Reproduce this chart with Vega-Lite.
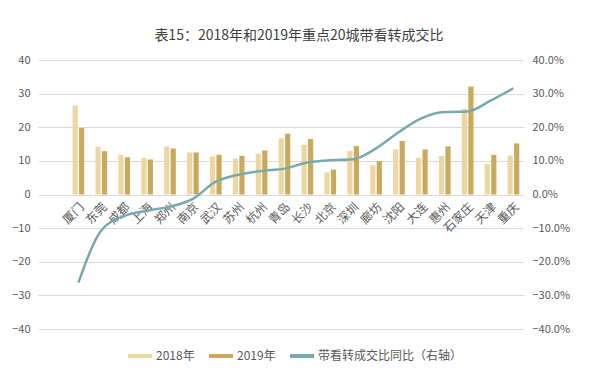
{
  "$schema": "https://vega.github.io/schema/vega-lite/v6.json",
  "width": 486,
  "height": 269,
  "autosize": {"type": "none"},
  "padding": {"left": 38, "top": 60, "right": 76, "bottom": 54},
  "background": "white",
  "title": {"text": "表15：2018年和2019年重点20城带看转成交比", "fontSize": 14, "font": "Noto Sans CJK SC", "fontWeight": "normal", "color": "#404040", "offset": 11, "anchor": "middle", "dx": 18},
  "config": {
    "font": "Noto Sans CJK SC",
    "view": {"stroke": null},
    "axis": {"labelColor": "#595959", "labelFontSize": 11, "titleColor": "#595959", "gridColor": "#d9d9d9", "domain": false, "ticks": false},
    "legend": {"labelColor": "#595959", "labelFontSize": 12}
  },
  "datasets": {
    "bars": [
      {"city": "厦门", "series": "2018年", "value": 26.5}, {"city": "厦门", "series": "2019年", "value": 19.8},
      {"city": "东莞", "series": "2018年", "value": 14.2}, {"city": "东莞", "series": "2019年", "value": 12.9},
      {"city": "成都", "series": "2018年", "value": 11.8}, {"city": "成都", "series": "2019年", "value": 11.1},
      {"city": "上海", "series": "2018年", "value": 10.9}, {"city": "上海", "series": "2019年", "value": 10.4},
      {"city": "郑州", "series": "2018年", "value": 14.3}, {"city": "郑州", "series": "2019年", "value": 13.7},
      {"city": "南京", "series": "2018年", "value": 12.5}, {"city": "南京", "series": "2019年", "value": 12.5},
      {"city": "武汉", "series": "2018年", "value": 11.3}, {"city": "武汉", "series": "2019年", "value": 11.8},
      {"city": "苏州", "series": "2018年", "value": 10.7}, {"city": "苏州", "series": "2019年", "value": 11.5},
      {"city": "杭州", "series": "2018年", "value": 12.1}, {"city": "杭州", "series": "2019年", "value": 13.1},
      {"city": "青岛", "series": "2018年", "value": 16.7}, {"city": "青岛", "series": "2019年", "value": 18.1},
      {"city": "长沙", "series": "2018年", "value": 14.8}, {"city": "长沙", "series": "2019年", "value": 16.5},
      {"city": "北京", "series": "2018年", "value": 6.6}, {"city": "北京", "series": "2019年", "value": 7.4},
      {"city": "深圳", "series": "2018年", "value": 13.0}, {"city": "深圳", "series": "2019年", "value": 14.4},
      {"city": "廊坊", "series": "2018年", "value": 8.7}, {"city": "廊坊", "series": "2019年", "value": 10.0},
      {"city": "沈阳", "series": "2018年", "value": 13.4}, {"city": "沈阳", "series": "2019年", "value": 15.9},
      {"city": "大连", "series": "2018年", "value": 10.9}, {"city": "大连", "series": "2019年", "value": 13.4},
      {"city": "惠州", "series": "2018年", "value": 11.4}, {"city": "惠州", "series": "2019年", "value": 14.3},
      {"city": "石家庄", "series": "2018年", "value": 25.5}, {"city": "石家庄", "series": "2019年", "value": 32.1},
      {"city": "天津", "series": "2018年", "value": 9.1}, {"city": "天津", "series": "2019年", "value": 11.8},
      {"city": "重庆", "series": "2018年", "value": 11.6}, {"city": "重庆", "series": "2019年", "value": 15.2}
    ],
    "line": [
      {"city": "厦门", "series": "带看转成交比同比（右轴）", "yoy": -0.262},
      {"city": "东莞", "series": "带看转成交比同比（右轴）", "yoy": -0.107},
      {"city": "成都", "series": "带看转成交比同比（右轴）", "yoy": -0.064},
      {"city": "上海", "series": "带看转成交比同比（右轴）", "yoy": -0.048},
      {"city": "郑州", "series": "带看转成交比同比（右轴）", "yoy": -0.036},
      {"city": "南京", "series": "带看转成交比同比（右轴）", "yoy": -0.013},
      {"city": "武汉", "series": "带看转成交比同比（右轴）", "yoy": 0.038},
      {"city": "苏州", "series": "带看转成交比同比（右轴）", "yoy": 0.059},
      {"city": "杭州", "series": "带看转成交比同比（右轴）", "yoy": 0.070},
      {"city": "青岛", "series": "带看转成交比同比（右轴）", "yoy": 0.077},
      {"city": "长沙", "series": "带看转成交比同比（右轴）", "yoy": 0.095},
      {"city": "北京", "series": "带看转成交比同比（右轴）", "yoy": 0.102},
      {"city": "深圳", "series": "带看转成交比同比（右轴）", "yoy": 0.105},
      {"city": "廊坊", "series": "带看转成交比同比（右轴）", "yoy": 0.137},
      {"city": "沈阳", "series": "带看转成交比同比（右轴）", "yoy": 0.186},
      {"city": "大连", "series": "带看转成交比同比（右轴）", "yoy": 0.227},
      {"city": "惠州", "series": "带看转成交比同比（右轴）", "yoy": 0.245},
      {"city": "石家庄", "series": "带看转成交比同比（右轴）", "yoy": 0.247},
      {"city": "天津", "series": "带看转成交比同比（右轴）", "yoy": 0.279},
      {"city": "重庆", "series": "带看转成交比同比（右轴）", "yoy": 0.316}
    ]
  },
  "encoding": {
    "x": {
      "field": "city", "type": "nominal",
      "sort": ["厦门","东莞","成都","上海","郑州","南京","武汉","苏州","杭州","青岛","长沙","北京","深圳","廊坊","沈阳","大连","惠州","石家庄","天津","重庆"],
      "scale": {"paddingInner": 0.49, "paddingOuter": 0.858, "align": 0.88},
      "axis": {"title": null, "labelAngle": -45, "offset": -132, "labelFontSize": 12, "labelPadding": 4, "grid": false}
    },
    "color": {
      "field": "series", "type": "nominal",
      "scale": {"domain": ["2018年", "2019年", "带看转成交比同比（右轴）"], "range": ["#eed6a3", "#c9a95c", "#78a9ae"]},
      "legend": {"title": null, "orient": "none", "legendX": 90, "legendY": 284, "direction": "horizontal", "symbolType": "M-1,-0.17L1,-0.17L1,0.17L-1,0.17Z", "symbolSize": 576, "symbolStrokeWidth": 0, "columnPadding": 14, "labelOffset": 4, "labelFontSize": 12}
    }
  },
  "layer": [
    {
      "data": {"name": "bars"},
      "mark": {"type": "bar"},
      "encoding": {
        "xOffset": {"field": "series", "type": "nominal", "sort": ["2018年", "2019年"], "scale": {"paddingInner": 0.2}},
        "y": {"field": "value", "type": "quantitative", "scale": {"domain": [-40, 40]}, "axis": {"title": null, "values": [-40,-30,-20,-10,0,10,20,30,40], "grid": true, "labelPadding": 8}}
      }
    },
    {
      "data": {"name": "line"},
      "mark": {"type": "line", "strokeWidth": 2.5, "interpolate": "monotone"},
      "encoding": {
        "y": {"field": "yoy", "type": "quantitative", "scale": {"domain": [-0.4, 0.4]}, "axis": {"title": null, "orient": "right", "format": ".1%", "values": [-0.4,-0.3,-0.2,-0.1,0,0.1,0.2,0.3,0.4], "grid": false, "labelPadding": 8}}
      }
    }
  ],
  "resolve": {"scale": {"y": "independent"}}
}
